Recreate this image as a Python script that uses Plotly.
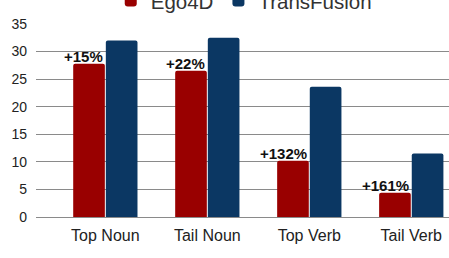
import plotly.graph_objects as go

categories = ["Top Noun", "Tail Noun", "Top Verb", "Tail Verb"]
ego4d = [27.8, 26.5, 10.2, 4.4]
transfusion = [32.0, 32.5, 23.6, 11.5]
gains = ["+15%", "+22%", "+132%", "+161%"]
y_ticks = [0, 5, 10, 15, 20, 25, 30, 35]

RED = "#990000"
BLUE = "#0b3763"
FONT = "Liberation Sans, Arial, sans-serif"

fig = go.Figure()
fig.add_trace(go.Bar(name="Ego4D", x=list(range(len(categories))), y=ego4d,
                     marker=dict(color=RED, cornerradius=2, line=dict(width=0))))
fig.add_trace(go.Bar(name="TransFusion", x=list(range(len(categories))), y=transfusion,
                     marker=dict(color=BLUE, cornerradius=2, line=dict(width=0))))

for i, (v, g) in enumerate(zip(ego4d, gains)):
    fig.add_annotation(x=i, y=v, text="<b>%s</b>" % g, showarrow=False,
                       xanchor="right", yanchor="bottom", xshift=0, yshift=-3,
                       font=dict(family=FONT, size=15, color="#111111"))

fig.update_layout(
    width=449, height=258,
    margin=dict(l=36, r=0, t=24, b=41, autoexpand=False),
    paper_bgcolor="white", plot_bgcolor="white",
    barmode="group", bargap=0.36, bargroupgap=0.03,
    font=dict(family=FONT, color="#222222"),
    showlegend=True,
    legend=dict(orientation="h", x=0.503, xanchor="center", y=1.017, yanchor="bottom",
                font=dict(size=20.5, family=FONT, color="#333333"),
                itemsizing="constant", bgcolor="rgba(0,0,0,0)", tracegroupgap=0,
                itemwidth=30),
    xaxis=dict(tickmode="array", tickvals=list(range(len(categories))), ticktext=categories,
               range=[-0.68, 3.37], showgrid=False, zeroline=False, showline=False,
               ticks="", ticklabelstandoff=7, tickfont=dict(size=16, color="#222222")),
    yaxis=dict(range=[0, 35], tickvals=y_ticks, showgrid=True, gridcolor="#8a8a8a",
               gridwidth=1, zeroline=True, zerolinecolor="#8a8a8a", zerolinewidth=1,
               ticks="", ticklabelstandoff=8, tickfont=dict(size=14, color="#222222")),
)

fig.write_html("out.html", config={"displayModeBar": False},
               post_script="document.body.style.margin='0';")
